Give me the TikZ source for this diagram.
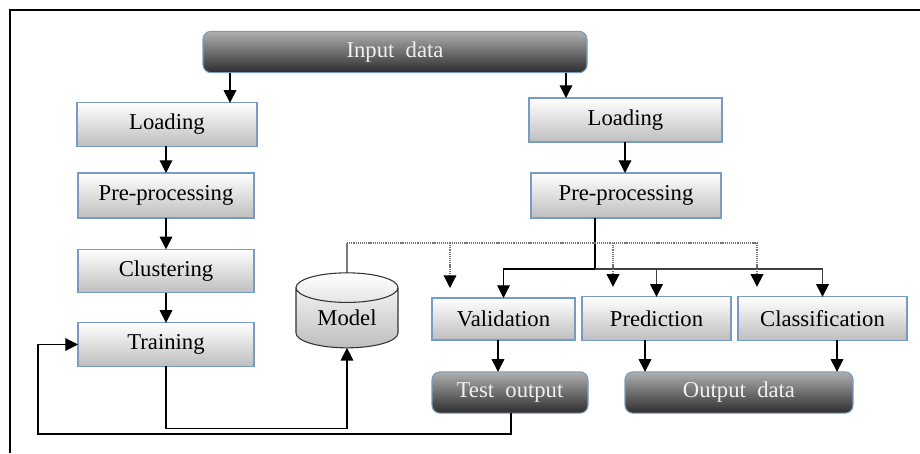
\documentclass[tikz,border=0pt]{standalone}
\usepackage{fontspec}
\setmainfont{Liberation Serif}
\usetikzlibrary{arrows.meta,shapes.geometric}

\definecolor{boxline}{RGB}{120,155,198}
\definecolor{boxgray}{RGB}{190,190,190}
\definecolor{darktop}{RGB}{175,175,175}
\definecolor{darkbot}{RGB}{45,45,45}

\tikzset{
  lightbox/.style={draw=boxline, line width=0.8pt, top color=white, bottom color=boxgray,
    inner sep=0pt, outer sep=0pt, minimum height=32.5pt, font=\fontsize{17}{18}\selectfont},
  darkbox/.style={draw=boxline, line width=0.8pt, rounded corners=6pt, top color=darktop,
    bottom color=darkbot, text=white!94!black, inner sep=0pt, outer sep=0pt,
    minimum height=31pt, font=\fontsize{17}{18}\selectfont},
  arr/.style={-{Triangle[width=9.5pt,length=9.5pt,color=black]}, line width=0.9pt},
  dotline/.style={draw=black!55, line width=1.1pt, dash pattern=on 0.9pt off 0.7pt},
}

\begin{document}
\begin{tikzpicture}[x=0.75pt,y=0.75pt,yscale=-1,xscale=1]
	\useasboundingbox (0,0) rectangle (920,453);
	%frame
	\draw [line width=0.8pt] (10,453) -- (10,10) -- (920,10) ;

	%input and output blocks
	\node [darkbox, minimum width=288pt] (inp) at (395,52) {Input\enspace data};
	\node [darkbox, minimum width=117pt] (test) at (510,392.5) {Test\enspace output};
	\node [darkbox, minimum width=171pt] (outd) at (739,392.5) {Output\enspace data};

	%training branch
	\node [lightbox, minimum width=135pt] (loadL) at (167,124.5) {Loading};
	\node [lightbox, minimum width=132pt, minimum height=33.75pt] (preL) at (166,195.5) {Pre-processing};
	\node [lightbox, minimum width=132pt] (clus) at (166,271) {Clustering};
	\node [lightbox, minimum width=132pt] (train) at (166,344.5) {Training};

	%model store
	\node [cylinder, shape border rotate=90, aspect=0.5, draw=black!80, line width=0.8pt,
	       top color=white, bottom color=boxgray, minimum width=76.5pt, minimum height=56.25pt,
	       inner sep=0pt, outer sep=0pt, font=\fontsize{17}{18}\selectfont] (model) at (347,318) {Model};

	%using branch
	\node [lightbox, minimum width=144.75pt, minimum height=33pt] (loadR) at (625.5,120) {Loading};
	\node [lightbox, minimum width=142.5pt, minimum height=33.75pt] (preR) at (626,195.5) {Pre-processing};
	\node [lightbox, minimum width=107.25pt, minimum height=31.5pt] (valid) at (503.5,319) {Validation};
	\node [lightbox, minimum width=111.75pt] (pred) at (656.5,318.5) {Prediction};
	\node [lightbox, minimum width=126.75pt] (clas) at (822.5,318.5) {Classification};

	%arrows of the training branch
	\draw [arr] (230,0 |- inp.south) -- (230,0 |- loadL.north) ;
	\draw [arr] (166,0 |- loadL.south) -- (preL.north) ;
	\draw [arr] (preL) -- (clus) ;
	\draw [arr] (clus) -- (train) ;
	\draw [arr] (train.south) -- ++(0,62.5) -| (model.south) ;
	\draw [arr] (511,0 |- test.south) |- (38,434) |- (train.west) ;

	%arrows of the using branch
	\draw [arr] (566,0 |- inp.south) -- (566,0 |- loadR.north) ;
	\draw [arr] (625,0 |- loadR.south) -- (625,0 |- preR.north) ;
	\draw [line width=2pt] (595,0 |- preR.south) -- (595,269) coordinate (split) ;
	\draw [arr] (split) -| (valid.north) ;
	\draw [arr, draw=black!75] (split) -| (pred.north) ;
	\draw [arr, draw=black!75] (split) -| (clas.north) ;
	\draw [arr] (498,0 |- valid.south) -- (498,0 |- test.north) ;
	\draw [arr] (645,0 |- pred.south) -- (645,0 |- outd.north) ;
	\draw [arr] (837,0 |- clas.south) -- (837,0 |- outd.north) ;

	%model links
	\draw [line width=0.9pt, draw=black!80] (model.north) -- (347,243) coordinate (mtop) ;
	\draw [dotline] (mtop) -- (757,243) ;
	\draw [dotline, arr, shorten >=7.5pt] (450,0 |- mtop) -- (450,0 |- valid.north) ;
	\draw [dotline, arr, shorten >=7.5pt] (613,0 |- mtop) -- (613,0 |- pred.north) ;
	\draw [dotline, arr, shorten >=7.5pt] (757,0 |- mtop) -- (757,0 |- clas.north) ;
\end{tikzpicture}
\end{document}
